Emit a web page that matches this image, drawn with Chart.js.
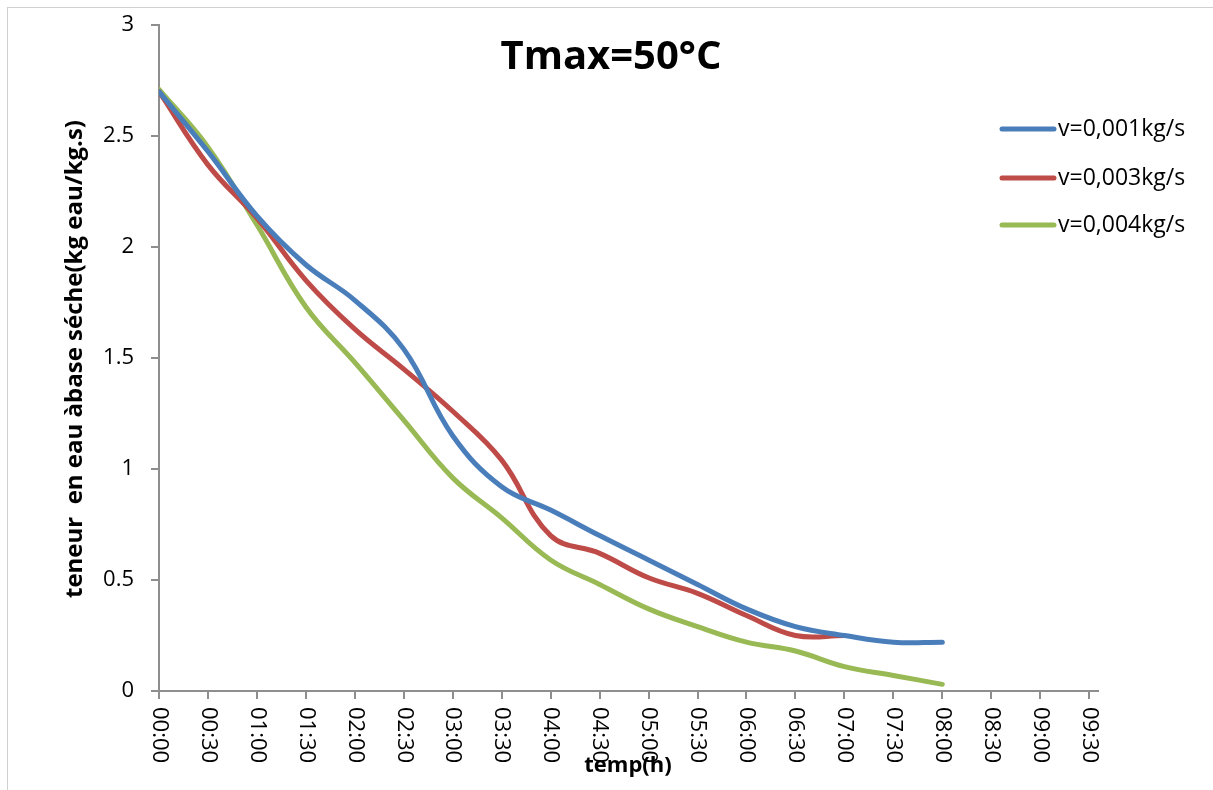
<!DOCTYPE html>
<html>
<head>
<meta charset="utf-8">
<script src="https://cdn.jsdelivr.net/npm/chart.js@4/dist/chart.umd.min.js"></script>
<style>
  html, body { margin: 0; padding: 0; background: #fff; }
  #wrap { width: 1213px; height: 790px; position: relative; }
</style>
</head>
<body>
<div id="wrap"><canvas id="chart" width="1213" height="790"></canvas></div>
<script>
const times = ['00:00', '00:30', '01:00', '01:30', '02:00', '02:30', '03:00', '03:30', '04:00', '04:30',
  '05:00', '05:30', '06:00', '06:30', '07:00', '07:30', '08:00', '08:30', '09:00', '09:30']

const v001 = [2.70, 2.43, 2.14, 1.92, 1.76, 1.54, 1.15, 0.92, 0.815, 0.70, 0.59, 0.48, 0.37, 0.29, 0.25, 0.22, 0.22]
const v003 = [2.70, 2.37, 2.13, 1.85, 1.63, 1.45, 1.26, 1.04, 0.70, 0.62, 0.51, 0.44, 0.34, 0.25, 0.25]
const v004 = [2.71, 2.45, 2.10, 1.73, 1.48, 1.22, 0.96, 0.78, 0.59, 0.48, 0.37, 0.29, 0.22, 0.18, 0.11, 0.07, 0.03]

const seriesNames = ['v=0,001kg/s', 'v=0,003kg/s', 'v=0,004kg/s']
const yTicks = [0, 0.5, 1, 1.5, 2, 2.5, 3]

const FONT = '"Open Sans", "Noto Sans", sans-serif'
const AXIS_GRAY = '#8e8e8e'

function toPoints(values) {
  return values.map((y, i) => ({ x: i, y }))
}

function makeDataset(label, values, color) {
  return {
    label,
    data: toPoints(values),
    borderColor: color,
    backgroundColor: color,
    borderWidth: 5,
    borderCapStyle: 'round',
    borderJoinStyle: 'round',
    pointRadius: 0,
    tension: 0.4,
    fill: false
  }
}

// titles, rotated x labels, legend and the frame drawn by hand
const decorations = {
  id: 'decorations',
  afterDraw(chart) {
    const { ctx, chartArea, scales } = chart
    ctx.save()

    // outer frame (only top/left visible in the picture)
    ctx.strokeStyle = '#d0d0d0'
    ctx.lineWidth = 1
    ctx.strokeRect(7.5, 7.5, 1300, 900)

    // x tick labels, rotated clockwise
    ctx.fillStyle = '#000'
    ctx.font = '22px ' + FONT
    ctx.textAlign = 'left'
    ctx.textBaseline = 'middle'
    times.forEach((t, i) => {
      const x = scales.x.getPixelForValue(i)
      ctx.save()
      ctx.translate(x, chartArea.bottom + 16)
      ctx.rotate(Math.PI / 2)
      ctx.fillText(t, 0, 0)
      ctx.restore()
    })

    // chart title
    ctx.font = 'bold 40px ' + FONT
    ctx.textAlign = 'center'
    ctx.textBaseline = 'middle'
    ctx.fillText('Tmax=50°C', 611, 58)

    // x axis title
    ctx.font = 'bold 22px ' + FONT
    ctx.fillText('temp(h)', 628, 766)

    // y axis title
    ctx.save()
    ctx.translate(75, 359)
    ctx.rotate(-Math.PI / 2)
    ctx.font = 'bold 24px ' + FONT
    ctx.fillText('teneur  en eau àbase séche(kg eau/kg.s)', 0, 0)
    ctx.restore()

    // legend
    const legendY = [129, 178, 225]
    ctx.font = '23px ' + FONT
    ctx.textAlign = 'left'
    chart.data.datasets.forEach((ds, i) => {
      ctx.strokeStyle = ds.borderColor
      ctx.lineWidth = 5
      ctx.lineCap = 'round'
      ctx.beginPath()
      ctx.moveTo(1002, legendY[i])
      ctx.lineTo(1054, legendY[i])
      ctx.stroke()
      ctx.fillStyle = '#000'
      ctx.fillText(ds.label, 1058, legendY[i])
    })

    ctx.restore()
  }
}

new Chart(document.getElementById('chart'), {
  type: 'line',
  data: {
    datasets: [
      makeDataset(seriesNames[0], v001, '#4A7EBB'),
      makeDataset(seriesNames[1], v003, '#BE4B48'),
      makeDataset(seriesNames[2], v004, '#98B954')
    ]
  },
  options: {
    responsive: false,
    animation: false,
    layout: {
      padding: { top: 25, right: 115, left: 0, bottom: 0 }
    },
    plugins: {
      legend: { display: false },
      title: { display: false },
      tooltip: { enabled: false }
    },
    scales: {
      x: {
        type: 'linear',
        min: 0,
        max: 19.18,
        afterBuildTicks: scale => {
          scale.ticks = times.map((t, i) => ({ value: i }))
        },
        afterFit: scale => {
          scale.height = 99
          scale.paddingLeft = 0
          scale.paddingRight = 0
        },
        grid: {
          display: true,
          drawOnChartArea: false,
          drawTicks: true,
          tickLength: 8,
          color: AXIS_GRAY,
          lineWidth: 2
        },
        border: { display: true, color: AXIS_GRAY, width: 2 },
        ticks: { display: false }
      },
      y: {
        min: 0,
        max: 3,
        afterBuildTicks: scale => {
          scale.ticks = yTicks.map(v => ({ value: v }))
        },
        afterFit: scale => {
          scale.width = 159
          scale.paddingTop = 0
          scale.paddingBottom = 0
        },
        grid: {
          display: true,
          drawOnChartArea: false,
          drawTicks: true,
          tickLength: 8,
          color: AXIS_GRAY,
          lineWidth: 2
        },
        border: { display: true, color: AXIS_GRAY, width: 2 },
        ticks: {
          color: '#000',
          padding: 17,
          font: { family: FONT, size: 22 },
          callback: v => String(v)
        }
      }
    }
  },
  plugins: [decorations]
})
</script>
</body>
</html>
